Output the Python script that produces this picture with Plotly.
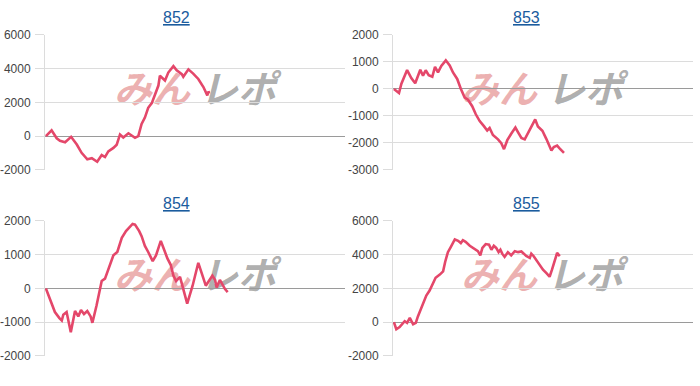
import plotly.graph_objects as go

# ---- data (x: progress in % of axis width, y: balance) ----
titles = ["852", "853", "854", "855"]

x_852 = [0.3, 2.2, 3.9, 5.0, 6.7, 8.7, 10.6, 12.2, 14.1, 15.6, 17.4, 18.9, 20.0, 21.1,
         22.8, 23.9, 25.0, 26.1, 27.8, 28.9, 30.0, 31.1, 32.2, 33.3, 34.4, 35.6, 36.7,
         37.8, 38.3, 40.0, 41.1, 42.8, 43.9, 45.6, 46.1, 47.8, 49.4, 51.1, 52.8, 54.1,
         54.4, 55.0]
y_852 = [0, 340, -130, -280, -360, -40, -500, -990, -1370, -1310, -1520, -1120, -1240,
         -900, -700, -510, 100, -80, 170, 60, -100, 0, 720, 1100, 1680, 1960, 2530, 3000,
         3580, 3300, 3770, 4150, 3900, 3680, 3520, 3960, 3710, 3390, 2910, 2420, 2600,
         2620]

x_853 = [0.3, 2.0, 2.8, 4.7, 6.1, 7.4, 9.1, 10.0, 10.9, 11.9, 13.1, 14.0, 15.0, 16.1,
         17.6, 18.9, 20.0, 21.4, 22.6, 23.9, 25.0, 26.4, 27.6, 28.9, 30.3, 31.4, 32.2,
         33.3, 35.0, 36.1, 37.0, 38.1, 39.4, 40.8, 41.7, 42.8, 43.9, 45.3, 46.7, 47.4,
         48.3, 49.8, 51.1, 52.8, 53.6, 54.7, 55.6, 57.0]
y_853 = [0, -150, 190, 700, 400, 210, 710, 490, 690, 510, 450, 820, 610, 850, 1060, 870,
         610, 370, 10, -320, -400, -640, -940, -1190, -1380, -1540, -1450, -1710, -1870,
         -2010, -2230, -1900, -1660, -1430, -1610, -1820, -1870, -1550, -1270, -1130,
         -1390, -1550, -1850, -2280, -2150, -2100, -2210, -2370]

x_854 = [0.3, 1.4, 2.2, 3.3, 4.8, 5.6, 6.1, 7.2, 8.6, 10.0, 11.1, 12.0, 13.0, 14.1, 15.2,
         15.8, 17.2, 18.9, 20.0, 21.1, 22.8, 24.1, 25.6, 27.0, 28.3, 29.2, 30.0, 31.4,
         32.2, 33.3, 34.4, 35.9, 37.0, 38.6, 39.4, 40.8, 41.9, 42.8, 43.7, 45.0, 46.1,
         47.4, 49.2, 51.1, 52.2, 53.6, 54.4, 55.8, 56.7, 57.2, 58.3, 59.4, 60.0, 60.9]
y_854 = [0, -260, -500, -700, -880, -950, -780, -700, -1300, -670, -830, -640, -760,
         -670, -830, -1020, -500, 220, 290, 550, 980, 1080, 1500, 1700, 1840, 1910, 1890,
         1700, 1550, 1260, 1080, 810, 980, 1410, 1220, 890, 700, 380, 220, 340, -20,
         -450, 80, 760, 460, 80, 190, 380, 250, 30, 250, 80, -20, -110]

x_855 = [0.3, 1.1, 2.2, 3.3, 3.9, 4.7, 5.6, 6.7, 7.6, 8.3, 9.1, 10.0, 11.1, 12.2, 13.3,
         14.2, 15.6, 16.7, 17.4, 18.3, 19.2, 20.6, 21.7, 22.6, 23.3, 24.2, 25.6, 27.2,
         28.3, 29.1, 29.8, 30.9, 32.0, 32.8, 33.6, 34.4, 35.2, 35.8, 36.4, 37.2, 38.3,
         39.4, 40.6, 41.7, 42.8, 43.6, 44.4, 45.6, 46.1, 46.9, 48.3, 50.0, 51.3, 52.2,
         53.0, 53.9, 54.7, 55.6]
y_855 = [0, -420, -290, -100, 60, -40, 250, -130, -40, 340, 720, 1160, 1580, 1870, 2340,
         2630, 2820, 3010, 3580, 4150, 4440, 4910, 4820, 4690, 4860, 4760, 4530, 4340,
         4210, 3960, 4400, 4630, 4590, 4290, 4530, 4400, 4150, 4290, 4060, 3870, 4150,
         3960, 4210, 4150, 4190, 4060, 3920, 3810, 4060, 3910, 3580, 3110, 2880, 2690,
         3110, 3680, 4100, 3920]

ticks_a = [-2000, 0, 2000, 4000, 6000]
ticks_b = [-3000, -2000, -1000, 0, 1000, 2000]
ticks_c = [-2000, -1000, 0, 1000, 2000]
tick_values = [ticks_a, ticks_b, ticks_c, ticks_a]
tick_labels = [[str(v) for v in t] for t in tick_values]  # plain hyphen minus

y_ranges = [[-2000, 6000], [-3000, 2000], [-2000, 2000], [-2000, 6000]]

series = [(x_852, y_852), (x_853, y_853), (x_854, y_854), (x_855, y_855)]

# ---- layout geometry (pixels in a 700x386 canvas) ----
W, H = 700, 386
col_x = [(45, 345), (393, 693)]
row_y = [(29, 169), (222, 362)]
cell_cx = [176, 526]
title_cy = [11, 204]
LINE = "#e4476a"

fig = go.Figure()
annotations = []
shapes = []
layout_axes = {}

for i, (xs, ys) in enumerate(series):
    r, c = divmod(i, 2)
    n = "" if i == 0 else str(i + 1)
    fig.add_trace(go.Scatter(
        x=xs, y=ys, mode="lines", xaxis="x" + n, yaxis="y" + n,
        line=dict(color=LINE, width=2.6), hoverinfo="skip", showlegend=False))
    x0, x1 = col_x[c]
    y0, y1 = row_y[r]
    layout_axes["xaxis" + n] = dict(
        domain=[x0 / W, x1 / W], range=[0, 100], anchor="y" + n,
        showgrid=False, zeroline=False, showticklabels=False, showline=False, ticks="")
    layout_axes["yaxis" + n] = dict(
        domain=[1 - y1 / H, 1 - y0 / H], range=y_ranges[i],
        tickmode="array", tickvals=tick_values[i], ticktext=tick_labels[i],
        anchor="x" + n, showgrid=True, gridcolor="#dcdcdc", gridwidth=1,
        zeroline=True, zerolinecolor="#9a9a9a", zerolinewidth=1,
        showline=True, linecolor="#dcdcdc", linewidth=1,
        ticks="outside", ticklen=9, tickcolor="#dcdcdc", tickwidth=1,
        ticklabelstandoff=2,
        tickfont=dict(family="Liberation Sans, Arial, sans-serif", size=12, color="#444444"))
    annotations.append(dict(
        text="<u>" + titles[i] + "</u>", xref="paper", yref="paper",
        x=cell_cx[c] / W, y=1 - title_cy[r] / H, xanchor="center", yanchor="middle",
        showarrow=False,
        font=dict(family="Liberation Sans, Arial, sans-serif", size=16, color="#1b5c9e")))
    # watermark (behind the line)
    off_x = 0 if c == 0 else 347
    off_y = 0 if r == 0 else 193
    for txt, cx, col in [("みん", 152, "rgba(220,110,110,0.55)"),
                         ("レポ", 238, "rgba(130,130,130,0.65)")]:
        px = cx + off_x
        py = 89 + off_y
        shapes.append(dict(
            type="rect", xref="paper", yref="paper", layer="below",
            x0=(px - 45) / W, x1=(px + 45) / W, y0=1 - (py + 18) / H, y1=1 - (py - 18) / H,
            line=dict(width=0), fillcolor="rgba(0,0,0,0)",
            label=dict(text="<b><i>" + txt + "</i></b>", textposition="middle center",
                       font=dict(family="Noto Sans CJK JP", size=38, color=col,
                                 weight=900))))

fig.update_layout(
    width=W, height=H, margin=dict(l=0, r=0, t=0, b=0),
    paper_bgcolor="white", plot_bgcolor="white",
    annotations=annotations, shapes=shapes, **layout_axes)

fig.write_html("out.html")
